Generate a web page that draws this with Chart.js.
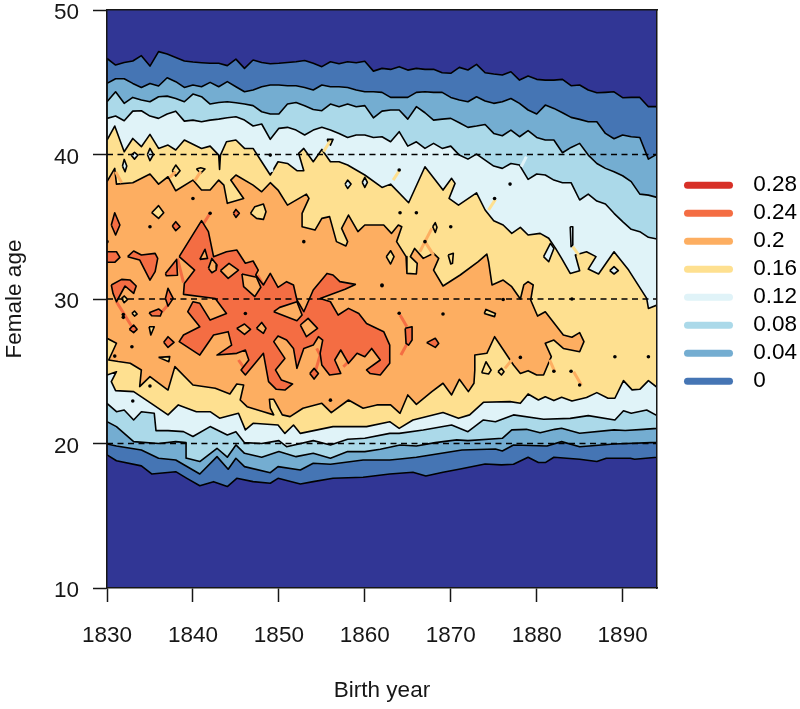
<!DOCTYPE html>
<html lang="en">
<head>
<meta charset="UTF-8">
<title>Female age by birth year</title>
<script src="https://cdn.jsdelivr.net/npm/chart.js"></script>
<style>
  html, body { margin: 0; background: #fff; }
  canvas { display: block; }
</style>
</head>
<body>
<canvas id="contour" width="800" height="709"></canvas>
<script>
const legendLabels = ['0.28', '0.24', '0.2', '0.16', '0.12', '0.08', '0.04', '0'];
const legendColors = ['#D73027', '#F46D43', '#FDAE61', '#FEE090', '#E0F3F8', '#ABD9E9', '#74ADD1', '#4575B4'];
const xTicks = [1830, 1840, 1850, 1860, 1870, 1880, 1890];
const yTicks = [10, 20, 30, 40, 50];
const refAges = [20, 30, 40];

const years = [1830,1831,1832,1833,1834,1835,1836,1837,1838,1839,1840,1841,1842,1843,1844,1845,1846,1847,1848,1849,1850,1851,1852,1853,1854,1855,1856,1857,1858,1859,1860,1861,1862,1863,1864,1865,1866,1867,1868,1869,1870,1871,1872,1873,1874,1875,1876,1877,1878,1879,1880,1881,1882,1883,1884,1885,1886,1887,1888,1889,1890,1891,1892,1893,1894];

// upper edge of each blue band
const top0 = [46.65,46.19,46.37,46.47,46.84,46.12,47.12,46.95,46.72,46.47,46.4,46.35,46.31,46.31,46.15,46.6,45.96,46.54,46.37,46.28,46.31,46.37,46.42,46.51,46.31,46.08,46.42,46.28,46.42,46.35,46.45,45.77,45.96,45.89,46.08,45.84,45.96,45.89,45.9,45.66,45.62,46.03,45.85,46.24,45.66,45.57,45.5,45.73,45.15,45.43,45.2,45.15,45.15,45.2,44.76,44.81,44.46,44.27,44.3,44.34,43.93,43.95,43.95,43.31,43.31];
const top1 = [44.92,45.24,45.24,44.92,44.64,44.92,44.74,45.31,45.04,44.64,44.81,44.69,44.99,44.69,45.04,44.69,44.34,44.46,44.69,44.81,44.81,44.76,44.76,44.64,44.46,44.81,44.69,44.69,44.64,44.46,44.34,44.34,44.3,43.95,43.95,43.95,44.3,44.34,44.3,44.3,43.95,43.77,43.65,44,43.7,43.54,43.65,43.88,43.54,43.08,42.8,43.42,43.19,42.89,42.57,42.43,42.27,42.27,41.46,41.09,41.35,41.23,41.18,39.68,40.03];
const top2 = [43.65,44.34,43.54,43.95,43.77,43.65,44,44.04,43.88,43.65,44.18,44,43.49,43.6,43.65,43.58,43.49,43.38,42.96,42.8,42.8,43.49,43.6,43.38,43.12,43.03,43.49,43.31,43.49,43.31,43.38,42.54,43,43.08,43.08,42.45,43.31,42.89,42.38,42.45,42.5,42.2,41.88,41.97,42.08,41.46,41.3,41.69,41.23,41.65,41.18,41,41,40.12,40.49,40.77,39.96,39.38,39.04,38.81,38.53,38.12,37.26,37.19,37.03];
const top3 = [42.5,42.66,42.34,43,43.03,42.66,42.5,42.8,43,42.31,42.38,42.27,42.38,42.45,42.54,42.61,42.38,41.97,42.11,41.05,41.81,41.88,41.69,41.35,41.69,41.88,41.69,41.46,41.18,41.35,41.35,41.18,41.23,40.88,41.58,40.58,40.88,40.42,40.77,40.42,40.58,39.96,39.68,40.03,39.61,39.2,39.04,39.38,39.27,38.28,38.65,38.58,38.23,38.05,38.05,36.85,37.26,36.78,36.57,35.93,35.35,34.82,34.66,34.27,34.15];

// lower edge of each blue band, [year, age]
const bottom0 = [[1830,19.21],[1831.1,18.81],[1834,18.45],[1835.2,17.89],[1838,18.05],[1839.3,17.59],[1840.8,17.08],[1842.4,17.36],[1844,17.02],[1845.1,17.59],[1847,17.36],[1849,17.25],[1849.9,17.59],[1852.5,17.2],[1854,17.36],[1856.3,17.59],[1859.8,17.66],[1862.9,17.89],[1865.6,18.01],[1867.1,17.75],[1869.1,18.01],[1871.1,18.24],[1874,18.58],[1875.9,18.52],[1877.3,18.56],[1879,19.05],[1880.2,18.68],[1881,18.68],[1882,19.05],[1885,18.91],[1887,18.75],[1888.1,18.98],[1890.9,18.98],[1891.4,18.91],[1894,19.05]];
const bottom1 = [[1830,19.97],[1831.1,19.83],[1834,19.55],[1836,18.98],[1838,18.86],[1840.8,17.89],[1842.8,19.09],[1844.1,18.22],[1845,18.98],[1846,18.4],[1849,17.98],[1849.9,18.4],[1852.5,18.17],[1854,18.63],[1856,18.56],[1859.8,18.86],[1862.9,18.86],[1864.1,18.93],[1866,19.05],[1871.3,19.55],[1875.2,19.62],[1876,19.48],[1877.3,19.9],[1881.2,19.83],[1882.9,20.13],[1885,19.78],[1889,19.97],[1894,20.08]];
const bottom2 = [[1830,21.51],[1831.1,21.17],[1833.1,20.13],[1836,20],[1838,20.13],[1839.2,20.06],[1839.3,18.98],[1840.8,18.75],[1842.8,19.67],[1844,19.05],[1845,19.9],[1846,19.32],[1848,19.05],[1850,19.44],[1852,19.09],[1854,19.32],[1856,18.98],[1858,19.44],[1860,19.44],[1861.8,19.6],[1864.1,19.9],[1866,19.83],[1868.2,20.06],[1870.7,20.25],[1872,20.2],[1876,20.36],[1877.1,20.94],[1878.8,20.98],[1880.4,20.75],[1882.1,20.98],[1882.9,21.05],[1885,20.71],[1889,20.94],[1890.3,20.9],[1892.4,20.98],[1894,21.05]];
const bottom3 = [[1830,22.78],[1831.1,22.2],[1832,22.32],[1833.1,21.63],[1834,22.2],[1835.5,22.09],[1835.7,20.89],[1837.1,20.89],[1838.9,20.82],[1840,20.48],[1842,21.17],[1844,20.59],[1845,20.82],[1846,20.06],[1848,20],[1850,20.2],[1850.9,19.78],[1854,20.2],[1856,19.9],[1858,20.29],[1860,20.36],[1862.9,20.7],[1864,20.7],[1866.8,20.94],[1870.1,21.28],[1872,20.82],[1873.8,21.63],[1875.2,21.51],[1877.3,21.98],[1880.8,21.68],[1883.9,21.74],[1886,21.93],[1889.1,21.63],[1890.1,22.27],[1891,22.09],[1892.8,22.32],[1894,21.93]];

// 0.16 region outline
const outline16 = [[1830,41],[1830.9,41.97],[1832,40.19],[1833,41.11],[1834,40.54],[1835,41.39],[1836,40.42],[1837.1,40.65],[1838,40.31],[1839,41],[1841,40.42],[1842,40.58],[1843,39.96],[1843.1,38.97],[1843.2,39.96],[1843.9,40.88],[1845,41],[1846,40.42],[1847,40.42],[1848,39.5],[1849,38.58],[1849.9,39.5],[1851,39.38],[1852.1,38.88],[1852.9,38.88],[1852.3,40.08],[1852.9,40.42],[1854,39.5],[1855,40.35],[1856,39.5],[1857,39.5],[1858,39.27],[1860,38.58],[1862,37.72],[1863,37.95],[1865.1,36.66],[1867,39.15],[1869.1,37.54],[1870.1,38.35],[1870.5,38],[1869.8,36.96],[1870.9,36.5],[1873,37.35],[1874,36.16],[1875,35.42],[1876.1,35.12],[1877.1,34.54],[1878.1,34.96],[1879,34.43],[1880.4,34.54],[1881.4,34.2],[1882.2,33.5],[1882.9,32.81],[1883.9,31.77],[1885,31.96],[1884.5,33.04],[1885.8,33.27],[1886.9,32.93],[1886,32.07],[1887.2,31.73],[1889,33.27],[1890.7,32],[1892.8,30.04],[1893,29.35],[1894,29.58],[1894,23.89],[1893,24.35],[1892,23.75],[1891.1,23.71],[1890.1,24.35],[1889.1,23.13],[1888.3,23.13],[1887,23.52],[1885.8,23.18],[1884.1,22.94],[1882.9,23.2],[1882,22.97],[1881,23.24],[1880.2,23.01],[1879,23.43],[1878.1,22.78],[1876.9,22.9],[1873.8,22.85],[1872.2,21.98],[1870.9,21.74],[1869.1,22.14],[1865.6,21.63],[1864,21.05],[1862.9,21.51],[1860.2,21.17],[1856.3,21.17],[1852.5,20.7],[1851.7,21.28],[1850.7,20.7],[1849.9,21.28],[1847,21.4],[1846.1,20.94],[1845.3,22.09],[1843.1,21.75],[1842,22.2],[1840.4,22.2],[1838.3,22.67],[1837.1,21.98],[1835.4,22.67],[1833.1,23.59],[1831,23.66],[1830.5,24.28],[1831.1,24.97],[1830,24.74],[1830,41]];

// 0.2 region outline
const outline20 = [[1830,38.12],[1830.9,39.04],[1831.1,37.95],[1833,38.05],[1835,38.65],[1836,37.95],[1837.1,38.46],[1838,37.49],[1840,38.23],[1841,37.54],[1842,37.54],[1843,38.23],[1843.6,37.88],[1844,36.62],[1845.9,36.96],[1844.4,38.23],[1845,38.58],[1847,37.88],[1848,37.42],[1849,38.05],[1849.9,37.54],[1851,36.5],[1853.2,37.26],[1853.5,36.96],[1852.7,35.92],[1852.7,35],[1854.2,34.77],[1855,35.58],[1855.9,35.7],[1856.7,33.97],[1857.8,33.67],[1858,33.97],[1857.3,34.89],[1858.1,35.81],[1859.2,34.66],[1860,35.12],[1862.2,35.12],[1863.1,34.54],[1863.9,35.12],[1864.3,35],[1863.7,33.97],[1864.8,32.93],[1864.9,31.77],[1866,31.73],[1866.1,32.47],[1865.3,32.93],[1865.8,33.5],[1866.8,32.81],[1868,33.16],[1868.6,32.81],[1868,32],[1869.1,30.9],[1871.1,31.66],[1873.2,32.58],[1874.2,33.11],[1874.4,32.58],[1874.8,30.97],[1876.1,31.31],[1877.1,30.85],[1878.1,30],[1878.5,30.97],[1879,31.2],[1879.6,30.97],[1879.3,29.93],[1880.1,28.82],[1881,29.12],[1883.1,27.51],[1884.1,27.35],[1885,27.67],[1885.5,27.05],[1885,26.35],[1883.1,26.58],[1882,27.16],[1881,26.93],[1881.7,26.01],[1880.8,24.74],[1880,24.74],[1879,25.04],[1878.1,24.85],[1877.3,25.43],[1875.1,27.39],[1874.2,26.24],[1872.8,26.12],[1872.8,25.09],[1872.7,24.17],[1872.05,23.59],[1871,24.44],[1870.1,23.36],[1869.1,24.17],[1867.8,23.59],[1866,22.71],[1865,23.36],[1864.1,22.09],[1863,22.67],[1861.4,22.67],[1859.8,22.44],[1858.1,23.01],[1856.1,22.14],[1855,22.78],[1852.8,22.44],[1851.3,21.86],[1850.4,21.98],[1849.4,23.06],[1848.9,23.06],[1849,22.44],[1849.4,21.98],[1848.2,22.2],[1846.3,22.55],[1845.5,23.01],[1845.9,24.05],[1845.1,24.12],[1844.3,23.43],[1842.6,23.82],[1840,24.05],[1837.9,25.32],[1837.1,23.7],[1835,24.63],[1833.8,23.94],[1834,25.09],[1832.7,25.55],[1831.3,25.67],[1830.2,25.78],[1831.1,26.94],[1830,27.28],[1830,38.12]];

// 0.24 main region and its holes
const outline24 = [[1838.4,32.93],[1841,35.42],[1841.8,34.66],[1842.4,32.93],[1843.9,33.27],[1845.1,33.39],[1846.1,32.47],[1847,32.63],[1847.6,32],[1847.3,31.66],[1848.2,30.97],[1849,31.77],[1849.9,30.81],[1850.9,31.2],[1851.7,30.97],[1852.1,29.93],[1852.9,29.12],[1854,30.62],[1855.6,31.77],[1856.3,31.66],[1857.1,31.2],[1858.9,31.01],[1857.7,30.67],[1854.8,30.04],[1856,29.81],[1856.9,28.89],[1858.1,29.35],[1859.3,29],[1860.2,28.31],[1862.2,27.74],[1862.9,26.81],[1862.9,25.55],[1861.8,24.74],[1860.6,24.85],[1860.2,25.09],[1861.8,25.78],[1860.8,26.58],[1860,26.01],[1859.1,26.24],[1858.1,25.55],[1857.2,26.47],[1856.5,25.78],[1857.2,24.85],[1855.9,24.74],[1855,25.43],[1854.8,26.24],[1855.1,27.16],[1854.6,27.39],[1854,26.81],[1852.9,26.58],[1852.1,25.2],[1851.7,26.58],[1850.9,27.16],[1849.9,27.44],[1849.4,27.05],[1850.7,25.89],[1849.6,25.09],[1850.3,24.39],[1851.6,24.12],[1850.7,23.7],[1849.7,23.75],[1848.8,24.28],[1848.2,26.24],[1846.1,24.74],[1845.6,25.09],[1846.5,25.78],[1846.1,26.47],[1845.1,26.24],[1842.8,26.12],[1844.5,26.81],[1844.1,27.74],[1842.4,27.51],[1840.8,26.12],[1838.4,27.05],[1838.9,27.51],[1840.8,28.08],[1839.4,29.12],[1840,29.81],[1840.8,29.7],[1842,28.54],[1843.9,29],[1842.6,30.04],[1838.9,30.32],[1839,31.08],[1840.2,32],[1838.4,32.93]];
const holes24 = [
  [[1840.8,32.74],[1841.4,33.44],[1841.7,32.81]],
  [[1843.2,31.96],[1844.2,32.47],[1845.3,32],[1844.1,31.43]],
  [[1845.7,31.73],[1847.4,31.5],[1847.9,30.81],[1847.2,30.16],[1845.9,30.85]],
  [[1849.4,29.12],[1850.1,29.42],[1852.1,29.81],[1852.7,28.89],[1852.1,28.5]],
  [[1852.5,28.2],[1853.4,28.66],[1854.5,27.97],[1853.2,27.39]],
  [[1845.1,27.97],[1846,28.27],[1846.7,27.9],[1846,27.55]],
  [[1847.4,27.97],[1848,28.38],[1848.5,27.97],[1848.2,27.62]],
  [[1841.8,32.12],[1842.2,32.81],[1842.8,32.35],[1842.7,32],[1842.2,31.82]]
];
const islands24 = [
  [[1830.5,35.12],[1830.9,35.97],[1831.5,35.12],[1831,34.43]],
  [[1830,33.27],[1831.1,33.27],[1831.5,32.88],[1830.9,32.54],[1830,32.54]],
  [[1832.4,32.93],[1833.1,33.32],[1834,33.04],[1835.6,33.16],[1835.9,32.81],[1835.6,31.89],[1835,31.31],[1834.3,32.12],[1833.8,32.7]],
  [[1836.8,31.77],[1838.1,32.74],[1838.2,31.64],[1836.9,31.61]],
  [[1830.5,30.97],[1831.7,31.36],[1832.7,31.31],[1833.4,30.9],[1833.1,30.39],[1832.1,30.9],[1831.1,29.81],[1830.7,30.39]],
  [[1836.8,30.04],[1837.1,30.74],[1837.7,30.04],[1837.1,29.51]],
  [[1834.9,29.05],[1836,29.31],[1836.4,29.12],[1836.2,28.82],[1835.2,28.84]],
  [[1837.6,35.05],[1838,35.35],[1838.5,35],[1838,34.73]],
  [[1844.7,35.93],[1845,36.2],[1845.4,35.93],[1845,35.65]],
  [[1832.6,27.9],[1833.1,28.2],[1833.5,27.9],[1833.1,27.67]],
  [[1836.6,27],[1837.1,27.39],[1837.8,27],[1837.1,26.65]],
  [[1853.6,24.85],[1854.1,25.2],[1854.6,24.85],[1854.1,24.46]],
  [[1864.7,27.97],[1865.5,28.08],[1865.5,27.16],[1865.1,26.81],[1864.8,26.93]],
  [[1867.2,26.98],[1868.2,27.28],[1868.6,26.93],[1868.2,26.65]]
];

// small closed contours
const islands16 = [
  [[1835.2,35.97],[1836,36.46],[1836.6,35.97],[1836,35.58]],
  [[1846.7,35.93],[1847.2,36.39],[1848.2,36.57],[1848.5,36.04],[1848.2,35.51],[1847.4,35.58]],
  [[1862.5,32.93],[1863,33.34],[1863.4,32.93],[1863,32.42]],
  [[1873.9,29],[1874.1,29.28],[1875.2,29],[1875.1,28.78]],
  [[1873.6,24.9],[1874.1,25.66],[1874.7,25.08],[1874.4,24.81]],
  [[1875.5,24.97],[1875.9,25.2],[1876.2,24.97],[1875.9,24.74]],
  [[1836,25.96],[1837.3,26.01],[1837.2,25.66]],
  [[1834.9,28.08],[1835.5,28.08],[1835.1,27.51]],
  [[1832.9,29.01],[1833.2,29.17],[1833.5,28.96],[1833.2,28.82]],
  [[1831.7,30.04],[1832,30.21],[1832.4,29.97],[1832,29.74]],
  [[1837.6,38.88],[1838,39.27],[1838.5,38.88],[1838,38.51]],
  [[1840.4,39],[1840.9,39.08],[1841.4,39],[1840.9,38.7]],
  [[1855.6,41.05],[1856.3,41.05],[1856,40.65]],
  [[1869.7,33.04],[1870.3,33.16],[1870.2,32.47],[1870,32.42]],
  [[1867.9,35],[1868.2,35.28],[1868.4,34.96],[1868.2,34.61]]
];
const islands12 = [
  [[1831.8,39.2],[1832,39.66],[1832.3,39.2],[1832.1,38.81]],
  [[1832.8,39.96],[1833.2,40.15],[1833.6,39.96],[1833.2,39.68]],
  [[1834.7,40],[1835,40.42],[1835.4,40],[1835,39.57]],
  [[1857.7,37.95],[1858,38.23],[1858.4,37.95],[1858,37.65]],
  [[1859.7,38.07],[1860,38.42],[1860.3,38.07],[1860,37.72]],
  [[1883.9,35],[1884.2,35],[1884.2,33.74],[1884,33.62]],
  [[1880.8,32.93],[1881.6,33.85],[1882,33.5],[1881.4,32.58]],
  [[1888.5,31.96],[1889,32.24],[1889.5,31.96],[1889,31.73]]
];
const specks = [[1842,35.93],[1852.9,33.97],[1830,33.97],[1862,30.97],[1846.1,29],[1835,35],[1832.9,26.7],[1830.9,26.05],[1835,23.98],[1864.1,35.97],[1866,35.97],[1870,35],[1867,33.97],[1862,30.92],[1864,29.01],[1869.1,28.96],[1876.1,29.97],[1878.1,25.96],[1882,25],[1884.1,30],[1884,25],[1885,24.05],[1889.1,26],[1893,26],[1849,39.96],[1840,36.96],[1864,38.93],[1876.9,37.95],[1875.1,36.96],[1833,22.94],[1856,23],[1831.9,28.93],[1831.9,28.73]];

// thin colour bridges between neighbouring closed contours, no outline
const bridges24 = [
  [[1838.2,32.81],[1838.9,31.13]],
  [[1842.5,32.7],[1842.8,32.12]],
  [[1847.5,31.66],[1848.2,30.97],[1847.4,30.16]],
  [[1849.7,29.93],[1849.3,29.24]],
  [[1852.3,29.7],[1852.7,28.89]],
  [[1852.7,28.78],[1852.3,28.27]],
  [[1854.4,26.58],[1854.8,26.12],[1854.3,25.09]],
  [[1831.1,29.81],[1832.9,28.08]],
  [[1836.4,29.12],[1837.1,29.58]],
  [[1841.2,35.19],[1842,35.93]],
  [[1857.5,25.31],[1858.7,26.01]],
  [[1845.3,25.78],[1846.1,25.09]],
  [[1864.1,28.89],[1864.9,28.08]],
  [[1864.2,26.12],[1864.9,26.88]]
];
const bridges20 = [
  [[1831,38.81],[1831.7,38.05]],
  [[1837.3,38.42],[1838,38.81]],
  [[1840.2,38.18],[1840.9,38.81]],
  [[1867.8,34.89],[1867,33.97]],
  [[1867,33.97],[1866.4,33.27]],
  [[1867,33.97],[1868,33.04]],
  [[1876.3,25.2],[1877.1,25.78]],
  [[1881.5,25.78],[1882.1,24.97]],
  [[1884.3,24.97],[1885.2,24.05]]
];
const bridges16 = [
  [[1855.2,40.19],[1855.9,40.88]],
  [[1864,38.88],[1863.3,38.23]],
  [[1875.2,36.89],[1874.4,36.16]],
  [[1884.2,33.62],[1884.9,33.04]]
];
const bridges12 = [
  [[1849,39.85],[1849.2,38.8]],
  [[1878.8,39.85],[1878.2,39.15]]
];

const NAVY = '#313695';
const INK = '#161616';

function toPoints(list) {
  return list.map(function (p) { return { x: p[0], y: p[1] }; });
}

function band(top, bottom) {
  const upper = top.map(function (age, i) { return [years[i], age]; });
  return upper.concat(bottom.slice().reverse(), [upper[0]]);
}

function closed(list) {
  return list.concat([list[0]]);
}

function shape(list, color) {
  return {
    data: toPoints(list),
    backgroundColor: color,
    borderColor: '#000',
    borderWidth: 1.6,
    borderJoinStyle: 'round',
    fill: 'shape',
    pointRadius: 0,
    tension: 0
  };
}

function bridge(list, color) {
  return {
    data: toPoints(list),
    borderColor: color,
    borderWidth: 3,
    pointRadius: 0,
    fill: false
  };
}

const colorOf = function (label) { return legendColors[legendLabels.indexOf(label)]; };

const datasets = [
  shape(band(top0, bottom0), colorOf('0')),
  shape(band(top1, bottom1), colorOf('0.04')),
  shape(band(top2, bottom2), colorOf('0.08')),
  shape(band(top3, bottom3), colorOf('0.12')),
  shape(outline16, colorOf('0.16'))
];
islands12.forEach(function (s) { datasets.push(shape(closed(s), colorOf('0.12'))); });
datasets.push(shape(outline20, colorOf('0.2')));
islands16.forEach(function (s) { datasets.push(shape(closed(s), colorOf('0.16'))); });
bridges24.forEach(function (s) { datasets.push(bridge(s, colorOf('0.24'))); });
bridges20.forEach(function (s) { datasets.push(bridge(s, colorOf('0.2'))); });
bridges16.forEach(function (s) { datasets.push(bridge(s, colorOf('0.16'))); });
bridges12.forEach(function (s) { datasets.push(bridge(s, colorOf('0.12'))); });
datasets.push(shape(outline24, colorOf('0.24')));
islands24.forEach(function (s) { datasets.push(shape(closed(s), colorOf('0.24'))); });
holes24.forEach(function (s) { datasets.push(shape(closed(s), colorOf('0.2'))); });

datasets.push({
  data: toPoints(specks),
  showLine: false,
  pointRadius: 1.8,
  pointBackgroundColor: '#000',
  pointBorderWidth: 0
});

refAges.forEach(function (age) {
  datasets.push({
    data: [{ x: 1830, y: age }, { x: 1894, y: age }],
    borderColor: '#000',
    borderWidth: 1.4,
    borderDash: [6, 4.5],
    pointRadius: 0,
    fill: false
  });
});

// first in the list is painted first
datasets.forEach(function (d, i) { d.order = datasets.length - i; });

const FONT = { family: '"Liberation Sans", Arial, sans-serif', size: 22.5 };

const placeLegend = {
  id: 'placeLegend',
  afterLayout: function (chart) {
    Object.assign(chart.legend, { left: 682, right: 800, top: 168.5, bottom: 410 });
  }
};

const plotBackground = {
  id: 'plotBackground',
  beforeDatasetsDraw: function (chart) {
    const a = chart.chartArea;
    chart.ctx.save();
    chart.ctx.fillStyle = NAVY;
    chart.ctx.fillRect(a.left, a.top, a.right - a.left, a.bottom - a.top);
    chart.ctx.restore();
  }
};

// no half-label overhang: the plot box is fixed
function noOverhang(axis) {
  axis.paddingTop = axis.paddingBottom = axis.paddingLeft = axis.paddingRight = 0;
}

// frame only, no labels
function frameAxis(position, fit) {
  return {
    type: 'linear',
    position: position,
    min: 0,
    max: 1,
    ticks: { display: false },
    grid: { drawOnChartArea: false, drawTicks: false },
    border: { color: INK, width: 1.5, z: 2 },
    afterFit: fit
  };
}

new Chart(document.getElementById('contour'), {
  type: 'line',
  data: { datasets: datasets },
  plugins: [placeLegend, plotBackground],
  options: {
    responsive: false,
    animation: false,
    events: [],
    layout: { padding: 0 },
    plugins: {
      tooltip: { enabled: false },
      legend: {
        position: 'chartArea',
        align: 'start',
        labels: {
          font: { family: FONT.family, size: FONT.size },
          color: INK,
          padding: 5.5,
          usePointStyle: true,
          pointStyleWidth: 42,
          generateLabels: function () {
            return legendLabels.map(function (text, i) {
              return {
                text: '  ' + text,
                strokeStyle: legendColors[i],
                fillStyle: legendColors[i],
                lineWidth: 7,
                lineCap: 'round',
                pointStyle: 'line',
                hidden: false
              };
            });
          }
        }
      }
    },
    scales: {
      x: {
        type: 'linear',
        min: 1830,
        max: 1894,
        grid: { drawOnChartArea: false, tickLength: 14, tickColor: INK, tickWidth: 1.5 },
        border: { color: INK, width: 1.5, z: 2 },
        ticks: {
          color: INK,
          font: FONT,
          padding: 20,
          maxRotation: 0,
          autoSkip: false,
          callback: function (v) { return String(v); }
        },
        afterBuildTicks: function (axis) {
          axis.ticks = xTicks.map(function (v) { return { value: v }; });
        },
        title: { display: true, text: 'Birth year', color: INK, font: FONT, padding: { top: 0, bottom: 5 } },
        afterFit: function (axis) { axis.height = 121; noOverhang(axis); }
      },
      y: {
        type: 'linear',
        min: 10,
        max: 50,
        grid: { drawOnChartArea: false, tickLength: 14, tickColor: INK, tickWidth: 1.5 },
        border: { color: INK, width: 1.5, z: 2 },
        ticks: { color: INK, font: FONT, padding: 14, autoSkip: false, labelOffset: 3 },
        afterBuildTicks: function (axis) {
          axis.ticks = yTicks.map(function (v) { return { value: v }; });
        },
        title: { display: true, text: 'Female age', color: INK, font: FONT, padding: { top: 1, bottom: 0 } },
        afterFit: function (axis) { axis.width = 107; noOverhang(axis); }
      },
      xTop: Object.assign(frameAxis('top', function (axis) { axis.height = 10; noOverhang(axis); }), { axis: 'x' }),
      yRight: Object.assign(frameAxis('right', function (axis) { axis.width = 143; noOverhang(axis); }), { axis: 'y' })
    }
  }
});
</script>
</body>
</html>
